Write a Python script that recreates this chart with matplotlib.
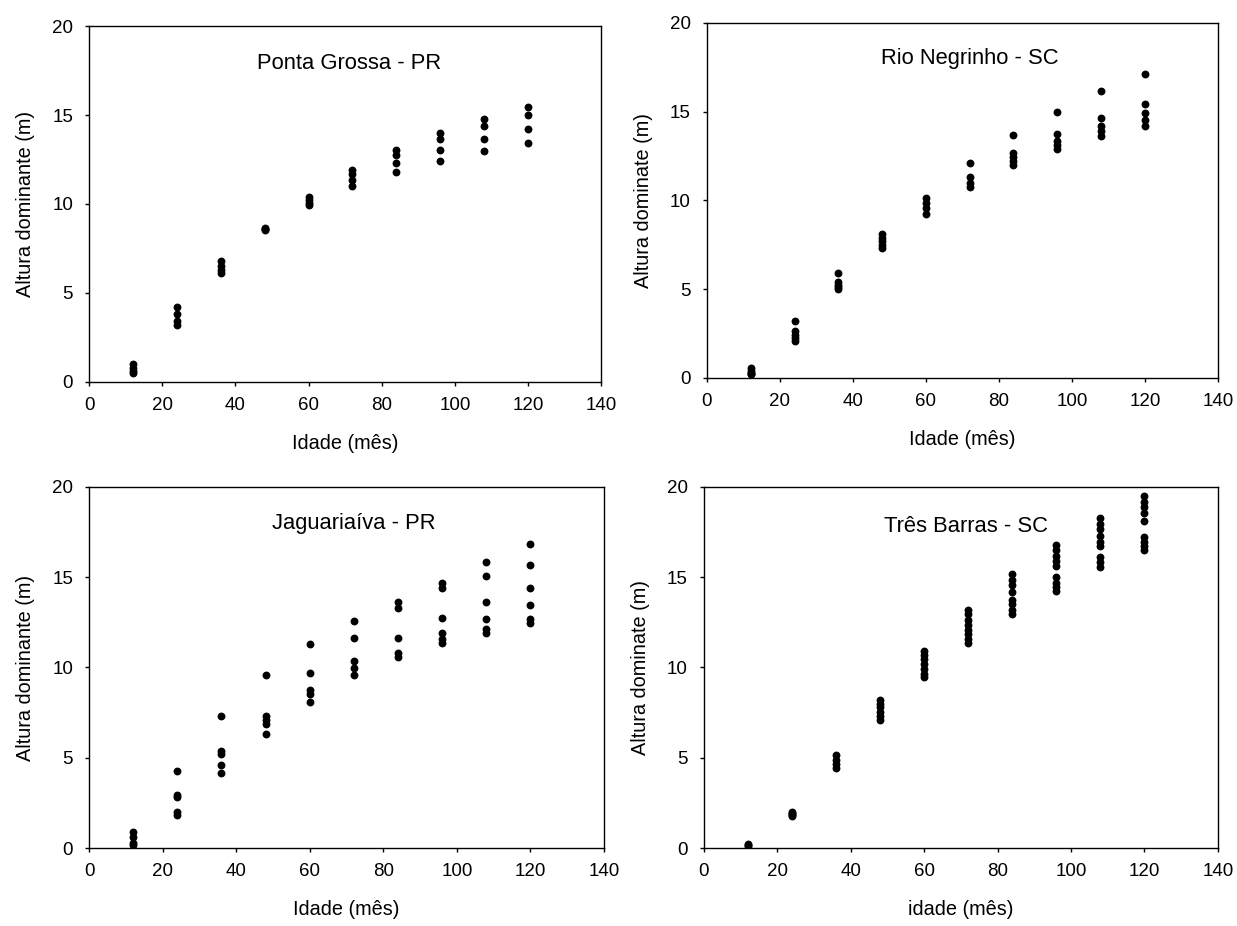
import matplotlib
matplotlib.use("Agg")
import matplotlib.pyplot as plt

plt.rcParams['font.family'] = ['Liberation Sans', 'DejaVu Sans']

# idades (meses) e alturas dominantes
idades = [12, 24, 36, 48, 60, 72, 84, 96, 108, 120]

ponta_grossa = [
    [1.0, 0.8, 0.6, 0.5],
    [4.2, 3.8, 3.4, 3.2],
    [6.8, 6.5, 6.3, 6.1],
    [8.6, 8.6, 8.55, 8.65],
    [10.4, 10.2, 10.05, 9.95],
    [11.9, 11.7, 11.35, 11.0],
    [13.05, 12.75, 12.3, 11.8],
    [14.0, 13.65, 13.05, 12.4],
    [14.8, 14.4, 13.65, 12.95],
    [15.45, 15.0, 14.2, 13.4],
]

rio_negrinho = [
    [0.55, 0.4, 0.3, 0.25, 0.2],
    [3.2, 2.65, 2.45, 2.25, 2.1],
    [5.9, 5.4, 5.25, 5.1, 5.0],
    [8.1, 7.9, 7.7, 7.5, 7.35],
    [10.15, 9.85, 9.6, 9.25],
    [12.1, 11.3, 11.0, 10.75],
    [13.7, 12.7, 12.45, 12.25, 12.0],
    [15.0, 13.75, 13.35, 13.1, 12.9],
    [16.15, 14.65, 14.2, 13.9, 13.65],
    [17.1, 15.45, 14.95, 14.55, 14.2],
]

jaguariaiva = [
    [0.9, 0.6, 0.3, 0.15],
    [4.25, 2.95, 2.85, 2.0, 1.85],
    [7.3, 5.4, 5.2, 4.6, 4.15],
    [9.6, 7.3, 7.1, 6.85, 6.3],
    [11.3, 9.7, 8.75, 8.55, 8.1],
    [12.6, 11.65, 10.35, 9.95, 9.6],
    [13.65, 13.3, 11.65, 10.8, 10.6],
    [14.7, 14.4, 12.75, 11.9, 11.55, 11.35],
    [15.85, 15.05, 13.65, 12.7, 12.15, 11.9],
    [16.85, 15.65, 14.4, 13.45, 12.7, 12.45],
]

tres_barras = [
    [0.2, 0.15, 0.1],
    [2.0, 1.95, 1.9, 1.85, 1.8],
    [5.15, 4.9, 4.65, 4.45],
    [8.2, 8.0, 7.8, 7.55, 7.3, 7.1],
    [10.9, 10.7, 10.45, 10.2, 9.9, 9.65, 9.45],
    [13.2, 12.95, 12.65, 12.35, 12.1, 11.85, 11.6, 11.35],
    [15.15, 14.85, 14.55, 14.2, 13.75, 13.5, 13.2, 12.95],
    [16.8, 16.5, 16.2, 15.9, 15.6, 15.0, 14.7, 14.45, 14.25],
    [18.25, 17.95, 17.65, 17.3, 16.95, 16.7, 16.1, 15.85, 15.55],
    [19.5, 19.15, 18.9, 18.55, 18.1, 17.2, 16.95, 16.7, 16.5],
]

titulos = ["Ponta Grossa - PR", "Rio Negrinho - SC", "Jaguariaíva - PR", "Três Barras - SC"]
rotulos_y = ["Altura dominante (m)", "Altura dominate (m)", "Altura dominante (m)", "Altura dominate (m)"]
rotulos_x = ["Idade (mês)", "Idade (mês)", "Idade (mês)", "idade (mês)"]
xticks = [0, 20, 40, 60, 80, 100, 120, 140]
yticks = [0, 5, 10, 15, 20]

dados = [ponta_grossa, rio_negrinho, jaguariaiva, tres_barras]
# posicoes dos eixos (fracao da figura)
posicoes = [
    [0.072, 0.5875, 0.414, 0.3844],
    [0.5715, 0.5918, 0.413, 0.3834],
    [0.072, 0.0842, 0.4163, 0.390],
    [0.569, 0.0842, 0.4155, 0.390],
]
pos_titulo = [(71, 17.9), (72, 18.0), (72, 17.95), (71.4, 17.8)]

fig = plt.figure(figsize=(12.37, 9.26), dpi=100)

for i in range(4):
    ax = fig.add_axes(posicoes[i])
    xs = []
    ys = []
    for idade, valores in zip(idades, dados[i]):
        xs += [idade] * len(valores)
        ys += valores
    ax.scatter(xs, ys, s=32, color='black', zorder=3, linewidths=0)
    ax.set_xlim(0, 140)
    ax.set_ylim(0, 20)
    ax.set_xticks(xticks)
    ax.set_yticks(yticks)
    ax.tick_params(direction='out', length=3, width=1, labelsize=13.5, colors='black')
    ax.tick_params(axis='x', pad=8)
    ax.tick_params(axis='y', pad=8.5)
    for s in ax.spines.values():
        s.set_linewidth(1)
        s.set_color('black')
    ax.set_xlabel(rotulos_x[i], fontsize=14.3, labelpad=14)
    ax.set_ylabel(rotulos_y[i], fontsize=14.3, labelpad=12)
    ax.text(pos_titulo[i][0], pos_titulo[i][1], titulos[i], fontsize=15.8, ha='center', va='center')

fig.savefig("out.png", dpi=100)
